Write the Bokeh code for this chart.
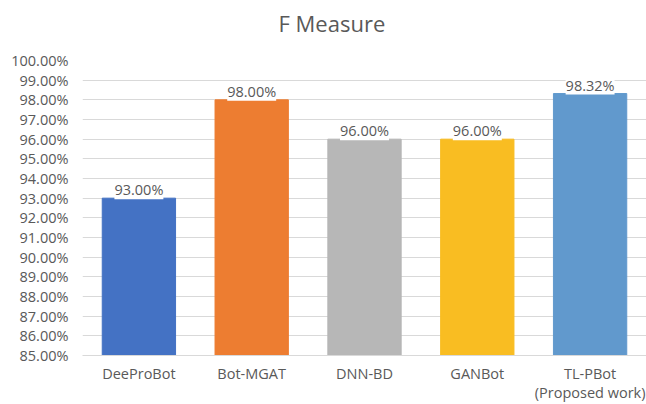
from bokeh.plotting import figure
from bokeh.models import ColumnDataSource, LabelSet, NumeralTickFormatter, FixedTicker, Title
from bokeh.core.properties import value
from bokeh.embed import file_html
from bokeh.resources import INLINE

categories = ["DeeProBot", "Bot-MGAT", "DNN-BD", "GANBot", "TL-PBot\n(Proposed work)"]
f_measure = [93.00, 98.00, 96.00, 96.00, 98.32]
colors = ["#4472C4", "#ED7D31", "#B7B7B7", "#F9BD22", "#6199CD"]
y_ticks = list(range(85, 101))
chart_title = "F Measure"

FONT = "Open Sans"
TEXT_COLOR = "#595959"

source = ColumnDataSource(dict(
    cat=categories,
    val=[v / 100 for v in f_measure],
    color=colors,
    label=[f"{v:.2f}%" for v in f_measure],
))

p = figure(
    x_range=categories, y_range=(0.85, 1.0),
    width=646, height=404, output_backend="svg", toolbar_location=None,
    min_border_left=82, min_border_right=0, min_border_top=60, min_border_bottom=40,
    title=chart_title,
)
p.title.align = "left"
p.title.offset = 196
p.title.standoff = 2
p.title.text_font = FONT
p.title.text_font_size = "22px"
p.title.text_font_style = "normal"
p.title.text_color = TEXT_COLOR

# blank band between the heading and the plot area
p.add_layout(Title(text=" ", text_font_size="10px", standoff=9), "above")

p.vbar(x="cat", top="val", bottom=0.85, width=0.65, color="color", source=source)

labels = LabelSet(
    x="cat", y="val", text="label", source=source,
    text_align="center", text_baseline="bottom", y_offset=-1,
    text_font=value(FONT), text_font_size=value("14.5px"), text_color=value(TEXT_COLOR),
    background_fill_color="white",
)
p.add_layout(labels)

p.yaxis.ticker = FixedTicker(ticks=[t / 100 for t in y_ticks])
p.yaxis.formatter = NumeralTickFormatter(format="0.00%")
p.yaxis.axis_line_color = None
p.yaxis.major_tick_line_color = None
p.yaxis.minor_tick_line_color = None
p.yaxis.major_label_text_font = FONT
p.yaxis.major_label_text_font_size = "14.5px"
p.yaxis.major_label_text_color = TEXT_COLOR
p.yaxis.major_label_standoff = 8

p.xaxis.axis_line_color = "#D9D9D9"
p.xaxis.major_tick_line_color = None
p.xaxis.minor_tick_line_color = None
p.xaxis.major_label_text_font = FONT
p.xaxis.major_label_text_font_size = "14.5px"
p.xaxis.major_label_text_color = TEXT_COLOR
p.xaxis.major_label_text_line_height = 1.0
p.xaxis.major_label_standoff = 2

p.xgrid.grid_line_color = None
p.ygrid.grid_line_color = "#D9D9D9"
p.outline_line_color = None
p.x_range.range_padding = 0

open("out.html", "w").write(file_html(p, INLINE))
